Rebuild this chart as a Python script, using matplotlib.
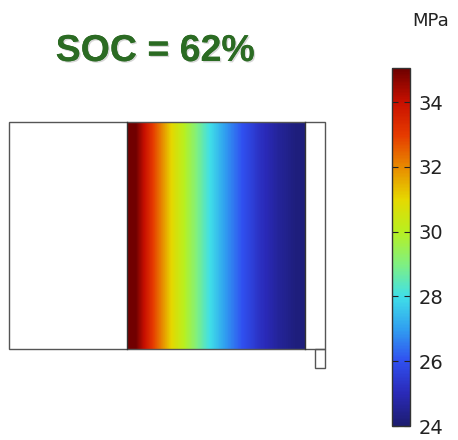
import numpy as np
import matplotlib
matplotlib.use("Agg")
import matplotlib.pyplot as plt
from matplotlib.colors import LinearSegmentedColormap, Normalize
from matplotlib.patches import Rectangle
import matplotlib.patheffects as pe

# ---- data ----
title_text = "SOC = 62%"
unit_label = "MPa"
# stress profile across the coloured domain (left -> right), MPa
stress_profile = [35.0, 32.9, 31.0, 29.6, 28.2, 27.0, 26.0, 25.2, 24.6, 24.2]
cbar_ticks = [24, 26, 28, 30, 32, 34]
vmin, vmax = 24.0, 35.05

# colormap stops (value, colour)
cmap_vals = [24, 25, 26, 27, 28, 29, 30, 31, 32, 33, 34, 35.05]
cmap_cols = ["#1c1c70", "#2a2ab8", "#3050f0", "#30a0f0", "#40e0e8", "#80f080",
             "#b8f020", "#e6d800", "#e88a00", "#e63a00", "#c81000", "#6e0000"]

W, H = 458, 440
fig = plt.figure(figsize=(W / 100, H / 100), dpi=100)
ax = fig.add_axes([0, 0, 1, 1])
ax.set_xlim(0, W)
ax.set_ylim(H, 0)
ax.axis("off")

pos = [(v - vmin) / (vmax - vmin) for v in cmap_vals]
cmap = LinearSegmentedColormap.from_list("comsol_rainbow", list(zip(pos, cmap_cols)))
norm = Normalize(vmin, vmax)

# geometry
x0, x1 = 9, 325
y0, y1 = 122, 349
cx0, cx1 = 127, 305

ax.imshow(np.array([stress_profile]), cmap=cmap, norm=norm, aspect="auto",
          interpolation="bilinear", extent=[cx0, cx1, y1, y0], zorder=1)
lc = "#555555"
ax.add_patch(Rectangle((x0, y0), x1 - x0, y1 - y0, fill=False, ec=lc, lw=1.0, zorder=3))
ax.plot([cx0, cx0], [y0, y1], color="#333333", lw=1.0, zorder=3)
ax.plot([cx1, cx1], [y0, y1], color="#333333", lw=1.0, zorder=3)
ax.add_patch(Rectangle((315, y1), 10, 19, fill=False, ec=lc, lw=1.0, zorder=3))

ax.text(155, 51, title_text, fontsize=27, fontweight="bold", color="#2b6b23",
        family="Liberation Sans", ha="center", va="center",
        path_effects=[pe.withSimplePatchShadow(offset=(1, -1), shadow_rgbFace="#999999", alpha=0.4),
                      pe.Normal()])

ax.text(431, 21, unit_label, fontsize=13, ha="center", va="center", color="#222222")

cax = fig.add_axes([392 / W, 1 - 426 / H, 18 / W, (426 - 68) / H])
sm = matplotlib.cm.ScalarMappable(norm=norm, cmap=cmap)
cb = fig.colorbar(sm, cax=cax, ticks=cbar_ticks)
cb.outline.set_edgecolor("#333333")
cb.outline.set_linewidth(1.0)
cax.tick_params(direction="in", left=True, right=True, length=4, width=0.8,
                labelsize=14, pad=6, colors="#222222")

fig.savefig("out.png", dpi=100)
